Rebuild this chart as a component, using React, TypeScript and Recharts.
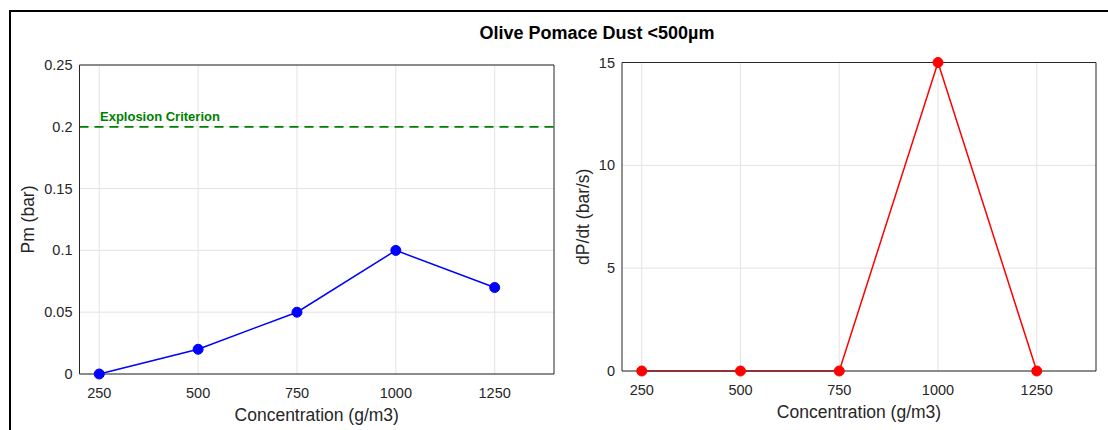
import React from 'react';
import { LineChart, Line, XAxis, YAxis, CartesianGrid, ReferenceLine } from 'recharts';

// Dust concentrations tested (g/m3)
const concentrations = [250, 500, 750, 1000, 1250];
// Maximum explosion pressure Pm (bar)
const pmValues = [0, 0.02, 0.05, 0.1, 0.07];
// Rate of pressure rise dP/dt (bar/s)
const dpdtValues = [0, 0, 0, 15, 0];

const xTicks = [250, 500, 750, 1000, 1250];
const pmTicks = [0, 0.05, 0.1, 0.15, 0.2, 0.25];
const dpdtTicks = [0, 5, 10, 15];
const explosionCriterion = 0.2;

const FONT = '"Liberation Sans", Arial, Helvetica, sans-serif';
const INK = '#262626';
const GRID = '#e3e3e3';

const pmData = concentrations.map((c, i) => ({ c, v: pmValues[i] }));
const dpdtData = concentrations.map((c, i) => ({ c, v: dpdtValues[i] }));

// Tick label renderer so the font size is not overridden by axis defaults
const tickText = (anchor: 'middle' | 'end', dy: number) => (props: any) => {
  const { x, y, payload } = props;
  return (
    <text x={x} y={y} dy={dy} textAnchor={anchor} fontSize={14.5} fill={INK} fontFamily={FONT}>
      {payload.value}
    </text>
  );
};

const xLabel = (text: string) => (props: any) => {
  const vb = props.viewBox;
  return (
    <text
      x={vb.x + vb.width / 2}
      y={vb.y + 47}
      textAnchor="middle"
      fontSize={17.5}
      fill={INK}
      fontFamily={FONT}
    >
      {text}
    </text>
  );
};

const yLabel = (text: string, dx: number) => (props: any) => {
  const vb = props.viewBox;
  const x = vb.x + dx;
  const y = vb.y + vb.height / 2;
  return (
    <text
      x={x}
      y={y}
      transform={`rotate(-90, ${x}, ${y})`}
      textAnchor="middle"
      dominantBaseline="central"
      fontSize={17.5}
      fill={INK}
      fontFamily={FONT}
    >
      {text}
    </text>
  );
};

const criterionLabel = (props: any) => {
  const vb = props.viewBox;
  return (
    <text x={vb.x + 20.5} y={vb.y - 5.5} fontSize={13} fontWeight="bold" fill="#008000" fontFamily={FONT}>
      Explosion Criterion
    </text>
  );
};

// Box frame with inward tick marks on all four sides
const frameAxes = (yDomain: number[], yTicks: number[]) => [
  <XAxis key="xb" xAxisId="xb" type="number" dataKey="c" domain={[200, 1400]} ticks={xTicks} mirror tick={false} axisLine={false} tickSize={4} stroke={INK} />,
  <XAxis key="xt" xAxisId="xt" orientation="top" type="number" dataKey="c" domain={[200, 1400]} ticks={xTicks} mirror tick={false} tickSize={4} stroke={INK} />,
  <YAxis key="yl" yAxisId="yl" type="number" domain={yDomain} ticks={yTicks} mirror tick={false} axisLine={false} tickSize={4} stroke={INK} />,
  <YAxis key="yr" yAxisId="yr" orientation="right" type="number" domain={yDomain} ticks={yTicks} mirror tick={false} tickSize={4} stroke={INK} />,
];

export default function App() {
  return (
    <div style={{ position: 'absolute', left: 0, top: 0, width: 1108, height: 430, background: '#fff', overflow: 'hidden', fontFamily: FONT }}>
      <div style={{ position: 'absolute', left: 9, top: 10, width: 1110, height: 440, border: '2px solid #000', boxSizing: 'border-box' }} />
      <div
        style={{
          position: 'absolute',
          left: 0,
          width: 1194,
          top: 23,
          textAlign: 'center',
          fontSize: 18,
          fontWeight: 'bold',
          color: '#000',
          lineHeight: '20px',
        }}
      >
        Olive Pomace Dust &lt;500µm
      </div>

      <div style={{ position: 'absolute', left: 0, top: 0 }}>
        <LineChart width={560} height={430} data={pmData} margin={{ top: 65, right: 6, bottom: 0, left: 0 }}>
          <CartesianGrid stroke={GRID} horizontalValues={pmTicks} verticalValues={xTicks} />
          <XAxis
            type="number"
            dataKey="c"
            domain={[200, 1400]}
            ticks={xTicks}
            height={56}
            tickLine={false}
            tickSize={6}
            tickMargin={7}
            stroke={INK}
            tick={tickText('middle', 10.5)}
            label={{ content: xLabel('Concentration (g/m3)') }}
          />
          <YAxis
            type="number"
            domain={[0, 0.25]}
            ticks={pmTicks}
            width={79.5}
            tickLine={false}
            tickSize={6}
            tickMargin={1}
            stroke={INK}
            tick={tickText('end', 5)}
            label={{ content: yLabel('Pm (bar)', 28) }}
          />
          {frameAxes([0, 0.25], pmTicks)}
          <ReferenceLine
            y={explosionCriterion}
            stroke="#008000"
            strokeWidth={1.8}
            strokeDasharray="9 6"
            label={{ content: criterionLabel }}
          />
          <Line
            dataKey="v"
            stroke="#0000ff"
            strokeWidth={1.5}
            dot={{ r: 5, fill: '#0000ff', stroke: '#0000ff', strokeWidth: 1 }}
            isAnimationActive={false}
          />
        </LineChart>
      </div>

      <div style={{ position: 'absolute', left: 560, top: 0 }}>
        <LineChart width={548} height={430} data={dpdtData} margin={{ top: 62.5, right: 12, bottom: 0, left: 0 }}>
          <CartesianGrid stroke={GRID} horizontalValues={dpdtTicks} verticalValues={xTicks} />
          <XAxis
            type="number"
            dataKey="c"
            domain={[200, 1400]}
            ticks={xTicks}
            height={59}
            tickLine={false}
            tickSize={6}
            tickMargin={7}
            stroke={INK}
            tick={tickText('middle', 10.5)}
            label={{ content: xLabel('Concentration (g/m3)') }}
          />
          <YAxis
            type="number"
            domain={[0, 15]}
            ticks={dpdtTicks}
            width={62}
            tickLine={false}
            tickSize={6}
            tickMargin={1}
            stroke={INK}
            tick={tickText('end', 5)}
            label={{ content: yLabel('dP/dt (bar/s)', 23) }}
          />
          {frameAxes([0, 15], dpdtTicks)}
          <Line
            dataKey="v"
            stroke="#ff0000"
            strokeWidth={1.5}
            dot={{ r: 5, fill: '#ff0000', stroke: '#ff0000', strokeWidth: 1 }}
            isAnimationActive={false}
          />
        </LineChart>
      </div>
    </div>
  );
}
